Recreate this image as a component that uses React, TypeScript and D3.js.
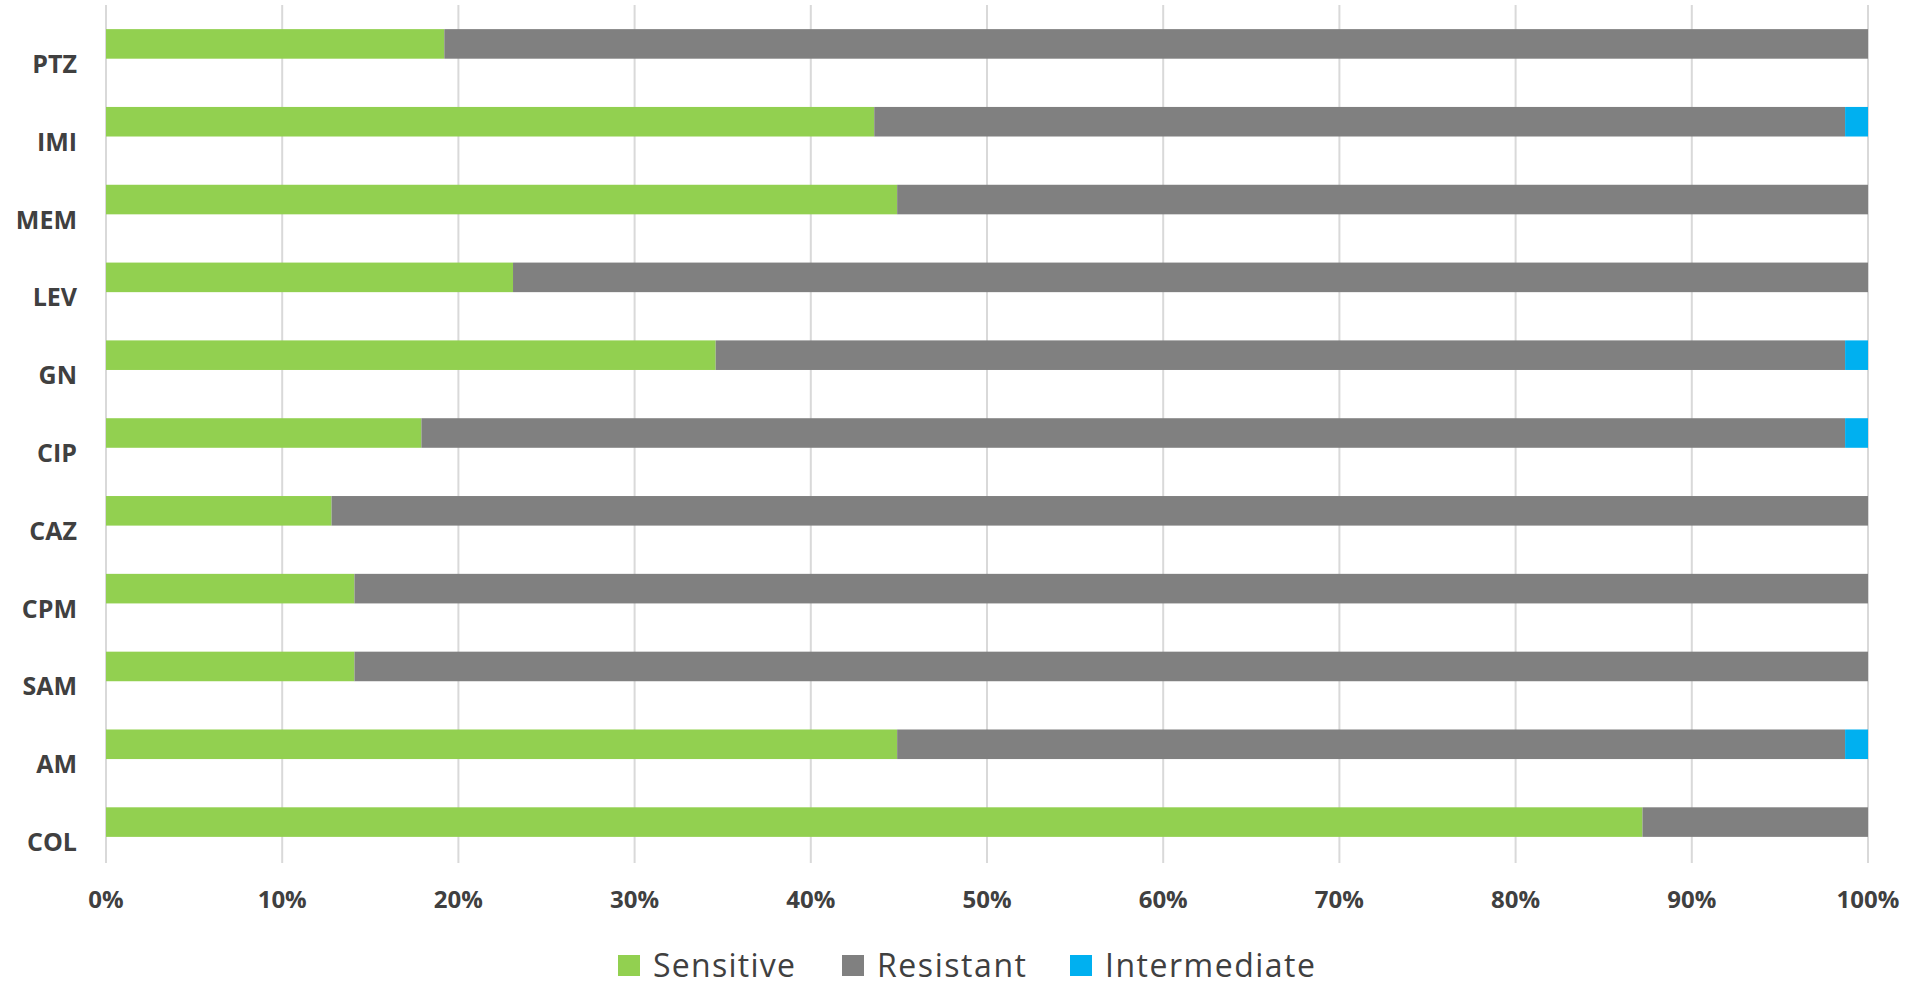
import { scaleBand, scaleLinear, stack } from "d3";

const categories = ["PTZ", "IMI", "MEM", "LEV", "GN", "CIP", "CAZ", "CPM", "SAM", "AM", "COL"];
const sensitive = [19.2, 43.6, 44.9, 23.1, 34.6, 17.9, 12.8, 14.1, 14.1, 44.9, 87.2];
const intermediate = [0, 1.3, 0, 0, 1.3, 1.3, 0, 0, 0, 1.3, 0];
const resistant = sensitive.map((s, i) => 100 - s - intermediate[i]);
const ticks = [0, 10, 20, 30, 40, 50, 60, 70, 80, 90, 100];

const seriesNames = ["Sensitive", "Resistant", "Intermediate"];
const colors = ["#92d050", "#808080", "#00b0f0"];

const WIDTH = 1907;
const HEIGHT = 989;

export default function App() {
  const x = scaleLinear().domain([0, 100]).range([106, 1868]);
  const y = scaleBand<string>().domain(categories).range([5, 861]).paddingInner(0.62).paddingOuter(0.31);

  const rows = categories.map((c, i) => ({
    name: c,
    Sensitive: sensitive[i],
    Resistant: resistant[i],
    Intermediate: intermediate[i],
  }));
  const layers = stack<any>().keys(seriesNames)(rows);

  // legend: square left edge and text width as in the original
  const legendX = [618, 842, 1070];
  const legendW = [142, 149, 210];

  return (
    <svg width={WIDTH} height={HEIGHT} style={{ position: "absolute", left: 0, top: 0, background: "#fff" }}>
      <g>
        {ticks.map((t) => (
          <line key={t} x1={x(t)} x2={x(t)} y1={5} y2={863} stroke="#d9d9d9" strokeWidth={2} />
        ))}
      </g>
      {layers.map((layer, li) => (
        <g key={layer.key} fill={colors[li]}>
          {layer.map((d, i) =>
            d[1] - d[0] > 0 ? (
              <rect
                key={i}
                x={x(d[0])}
                y={y(categories[i])}
                width={x(d[1]) - x(d[0])}
                height={y.bandwidth()}
              />
            ) : null
          )}
        </g>
      ))}
      <g fontFamily="'Open Sans', sans-serif" fontWeight={700} fill="#404040">
        {categories.map((c) => (
          <text key={c} x={77} y={(y(c) ?? 0) + y.bandwidth() / 2 + 19} fontSize={25} textAnchor="end" dominantBaseline="central">
            {c}
          </text>
        ))}
        {ticks.map((t) => (
          <text key={t} x={x(t)} y={908} fontSize={24} textAnchor="middle">
            {t}%
          </text>
        ))}
      </g>
      <g fontFamily="'Open Sans', sans-serif" fill="#404040" fontSize={32}>
        {seriesNames.map((n, i) => (
          <g key={n}>
            <rect x={legendX[i]} y={955} width={22} height={21} fill={colors[i]} />
            <text x={legendX[i] + 35} y={977} textLength={legendW[i]} lengthAdjust="spacing">
              {n}
            </text>
          </g>
        ))}
      </g>
    </svg>
  );
}
